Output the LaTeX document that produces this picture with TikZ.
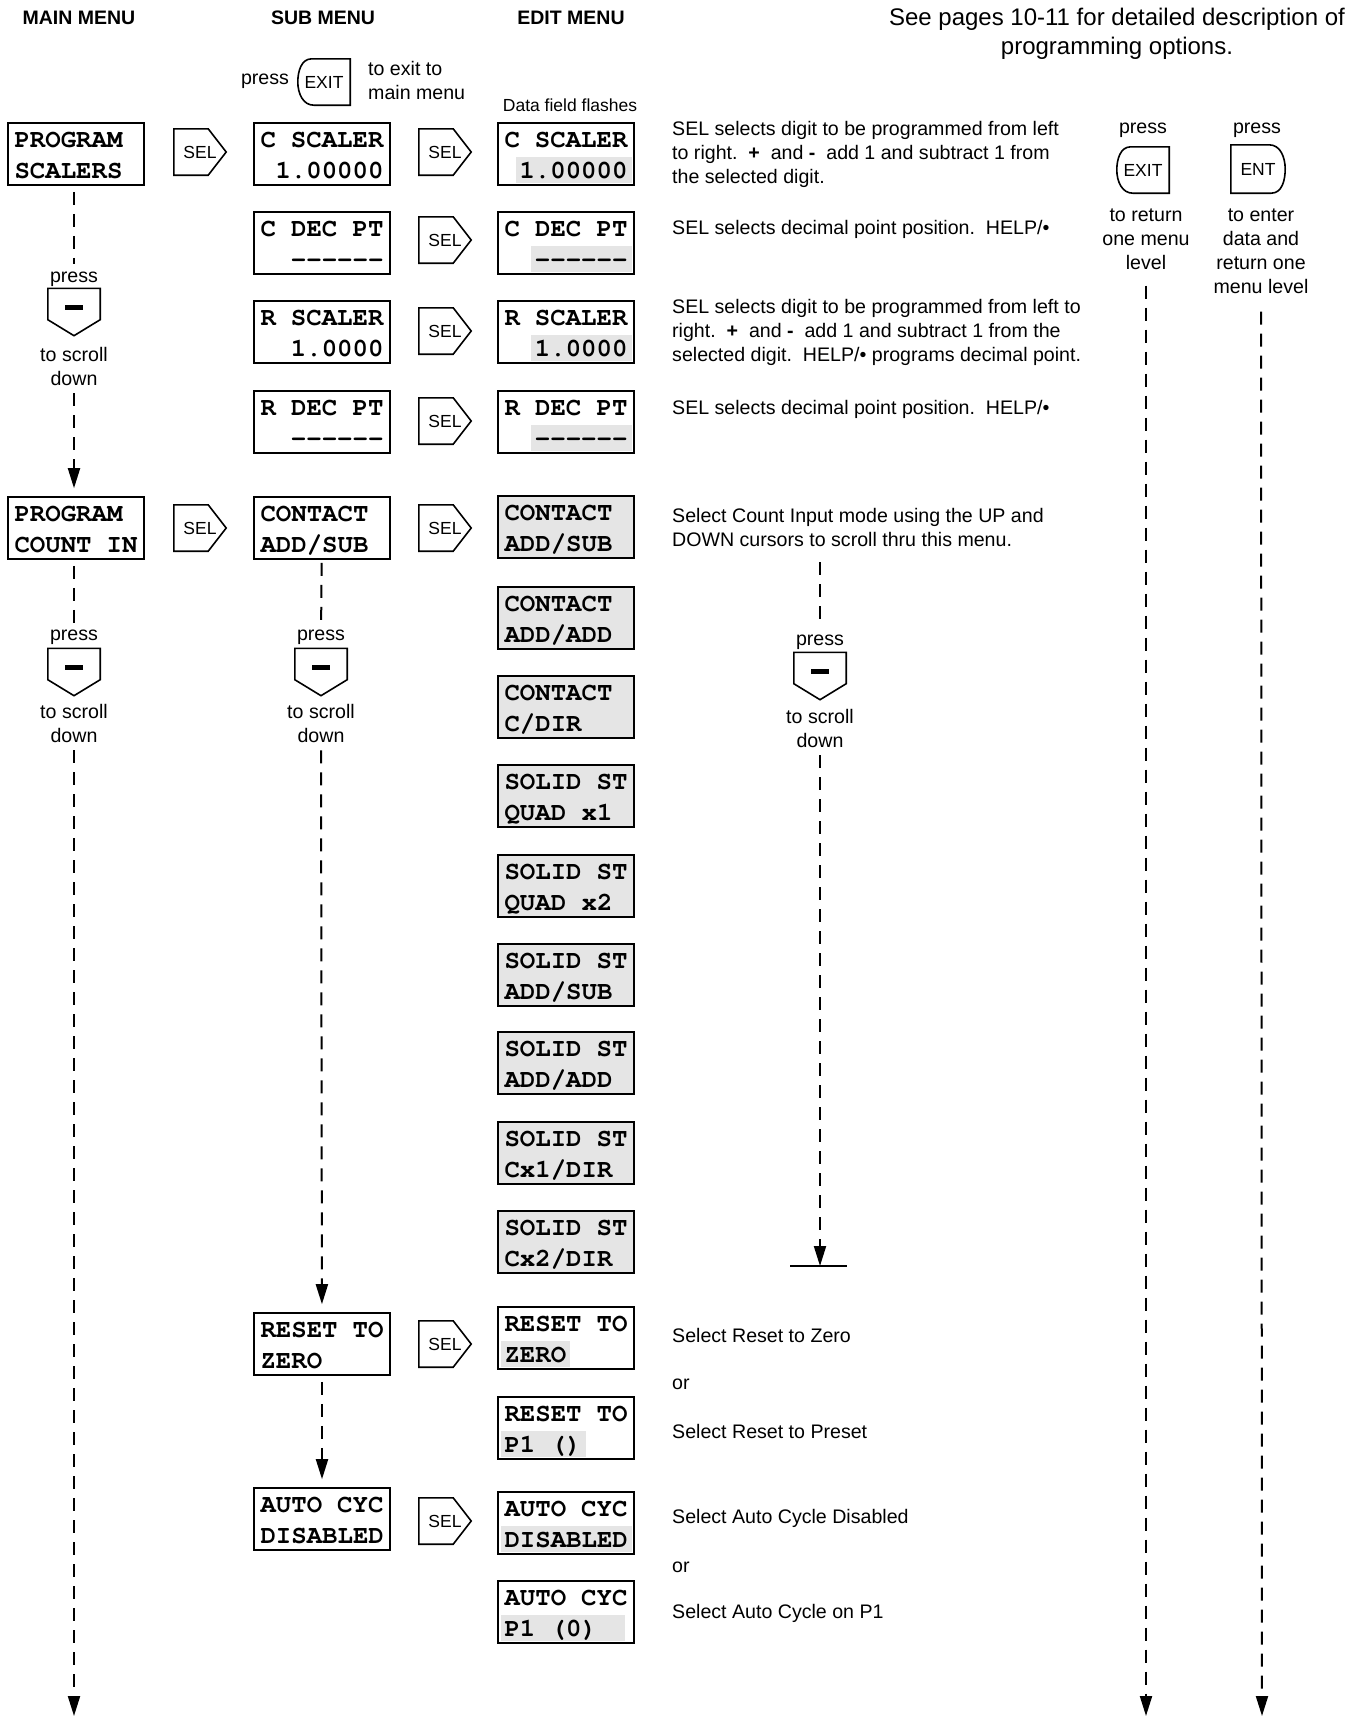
\documentclass[tikz,border=0pt]{standalone}
\usepackage{fontspec}
\setmainfont{Liberation Sans}
\newfontfamily\lcdfont{texgyrecursor-bold}[Extension=.otf]
\usetikzlibrary{arrows.meta}

\definecolor{lcdgray}{gray}{0.9}

% two display rows of eight characters
\newcommand\lcdrows[2]{\vbox{\baselineskip=31pt\hbox to 123pt{#1}\hbox to 123pt{#2}}}
% flashing data field
\newcommand\flash[1]{\kern-4pt{\setlength\fboxsep{0pt}\colorbox{lcdgray}{\rule[-4pt]{0pt}{26pt}\kern4pt#1\kern4pt}}\kern-4pt}
\newcommand\dsh{-\kern0pt-\kern0pt-\kern0pt-\kern0pt-\kern0pt-}

\newcommand\selkey[2]{%
  \node[keytxt, minimum width=52pt, minimum height=46pt] (#1) at (#2) {SEL};
  \draw[keyline] (#1.north west) -- ([xshift=-18pt]#1.north east) -- (#1.east)
    -- ([xshift=-18pt]#1.south east) -- (#1.south west) -- cycle;}
\newcommand\downkey[2]{%
  \node[minimum width=52pt, minimum height=47pt, inner sep=0pt] (#1) at (#2) {};
  \draw[keyline] (#1.north west) -- (#1.north east) -- ([yshift=16pt]#1.south east)
    -- (#1.south) -- ([yshift=16pt]#1.south west) -- cycle;
  \draw[line width=4.5pt] ([xshift=-9pt,yshift=-19pt]#1.north) -- ([xshift=9pt,yshift=-19pt]#1.north);}
\newcommand\exitkey[2]{%
  \node[keytxt, minimum width=52pt, minimum height=46pt] (#1) at (#2) {EXIT};
  \draw[keyline] (#1.north east) -- ([xshift=14pt]#1.north west) to[out=180,in=90] (#1.west)
    to[out=-90,in=180] ([xshift=16pt]#1.south west) -- (#1.south east) -- cycle;}
\newcommand\entkey[2]{%
  \node[keytxt, minimum width=54pt, minimum height=48pt] (#1) at (#2) {ENT};
  \draw[keyline] (#1.north west) -- ([xshift=-16pt]#1.north east) to[out=0,in=90] (#1.east)
    to[out=-90,in=0] ([xshift=-14pt]#1.south east) -- (#1.south west) -- cycle;}

\tikzset{
  lcd/.style={draw, line width=1.6pt, minimum width=136pt, minimum height=62pt,
    inner xsep=6pt, inner ysep=0pt, text height=55pt, text depth=6pt,
    font=\lcdfont\fontsize{25.7pt}{31pt}\selectfont},
  lcdon/.style={lcd, fill=lcdgray},
  txt/.style={font=\fontsize{19.6pt}{24pt}\selectfont, inner sep=2pt, align=center},
  desc/.style={txt, anchor=west, align=left},
  head/.style={font=\bfseries\fontsize{19.5pt}{24pt}\selectfont},
  keytxt/.style={font=\fontsize{17.5pt}{20pt}\selectfont, inner sep=0pt},
  keyline/.style={line width=1.6pt, line join=miter},
  flow/.style={line width=2pt, dash pattern=on 13pt off 9pt, shorten <=6pt},
  flowto/.style={flow, -{Triangle[length=20pt,width=12pt]}, shorten >=8pt},
}

\begin{document}
\begin{tikzpicture}[x=1pt,y=-1pt]
\useasboundingbox (0,0) rectangle (1360,1719);

\node[head] (hmain) at (79,18) {MAIN MENU};
\node[head] (hsub) at (323,18) {SUB MENU};
\node[head] (hedit) at (571,18) {EDIT MENU};
\node[txt, font=\fontsize{24pt}{28.5pt}\selectfont] (hnote) at (1117,34)
  {See pages 10-11 for detailed description of\\programming options.};

\node[txt] (pressX) at (265,81) {press};
\exitkey{exitA}{324,82}
\node[desc] (exitTxt) at (366,80) {to exit to\\main menu};
\node[txt, font=\fontsize{17.5pt}{20pt}\selectfont] (flashTxt) at (570,105) {Data field flashes};

% main menu
\node[lcd] (mainA) at (76,154) {\lcdrows{PROGRAM\hfil}{SCALERS\hfil}};
\node[lcd] (mainB) at (76,528) {\lcdrows{PROGRAM\hfil}{COUNT IN\hfil}};

% sub menu
\node[lcd] (subA) at (322,154) {\lcdrows{C SCALER\hfil}{\hfil 1.00000}};
\node[lcd] (subB) at (322,243) {\lcdrows{C DEC PT\hfil}{\hfil\dsh}};
\node[lcd] (subC) at (322,332) {\lcdrows{R SCALER\hfil}{\hfil 1.0000}};
\node[lcd] (subD) at (322,422) {\lcdrows{R DEC PT\hfil}{\hfil\dsh}};
\node[lcd] (subE) at (322,528) {\lcdrows{CONTACT\hfil}{ADD/SUB\hfil}};
\node[lcd] (subF) at (322,1344) {\lcdrows{RESET TO\hfil}{ZERO\hfil}};
\node[lcd] (subG) at (322,1519) {\lcdrows{AUTO CYC\hfil}{DISABLED\hfil}};

% edit menu
\node[lcd] (editA) at (566,154) {\lcdrows{C SCALER\hfil}{\hfil\flash{1.00000}}};
\node[lcd] (editB) at (566,243) {\lcdrows{C DEC PT\hfil}{\hfil\flash{\dsh}}};
\node[lcd] (editC) at (566,332) {\lcdrows{R SCALER\hfil}{\hfil\flash{1.0000}}};
\node[lcd] (editD) at (566,422) {\lcdrows{R DEC PT\hfil}{\hfil\flash{\dsh}}};
\foreach \n/\y/\rowa/\rowb in {E/527/CONTACT/{ADD/SUB}, F/618/CONTACT/{ADD/ADD},
    G/707/CONTACT/{C/DIR}, H/796/SOLID ST/{QUAD x1}, I/886/SOLID ST/{QUAD x2},
    J/975/SOLID ST/{ADD/SUB}, K/1063/SOLID ST/{ADD/ADD}, L/1153/SOLID ST/{Cx1/DIR},
    M/1242/SOLID ST/{Cx2/DIR}}
  \node[lcdon] (edit\n) at (566,\y) {\lcdrows{\rowa\hfil}{\rowb\hfil}};
\node[lcd] (editN) at (566,1338) {\lcdrows{RESET TO\hfil}{\flash{ZERO}\hfil}};
\node[lcd] (editO) at (566,1428) {\lcdrows{RESET TO\hfil}{\flash{P1 ()}\hfil}};
\node[lcd] (editP) at (566,1523) {\lcdrows{AUTO CYC\hfil}{\flash{DISABLED}\hfil}};
\node[lcd] (editQ) at (566,1612) {\lcdrows{AUTO CYC\hfil}{\flash{P1 (0)\kern24pt}\hfil}};

% SEL keys
\selkey{selMa}{200,152}
\selkey{selMb}{200,528}
\foreach \n/\y in {a/152, b/240, c/331, d/421, e/528, f/1344, g/1521}
  {\selkey{selS\n}{445,\y}}

% descriptions
\node[desc] (dA) at (670,154) {SEL selects digit to be programmed from left\\to right.\ \ \textbf{+}\ \ and \textbf{-}\ \ add 1 and subtract 1 from\\the selected digit.};
\node[desc] (dB) at (670,229) {SEL selects decimal point position.\ \ HELP/•};
\node[desc] (dC) at (670,332) {SEL selects digit to be programmed from left to\\right.\ \ \textbf{+}\ \ and \textbf{-}\ \ add 1 and subtract 1 from the\\selected digit.\ \ HELP/• programs decimal point.};
\node[desc] (dD) at (670,409) {SEL selects decimal point position.\ \ HELP/•};
\node[desc] (dE) at (670,527) {Select Count Input mode using the UP and\\DOWN cursors to scroll thru this menu.};
\node[desc] (dF) at (670,1335) {Select Reset to Zero};
\node[desc] (orA) at (670,1384) {or};
\node[desc] (dG) at (670,1431) {Select Reset to Preset};
\node[desc] (dH) at (670,1518) {Select Auto Cycle Disabled};
\node[desc] (orB) at (670,1567) {or};
\node[desc] (dI) at (670,1613) {Select Auto Cycle on P1};

% scroll keys
\node[txt] (pressA) at (74,279) {press};
\downkey{keyA}{74,312}
\node[txt] (scrollA) at (74,366) {to scroll\\down};
\node[txt] (pressB) at (74,637) {press};
\downkey{keyB}{74,672}
\node[txt] (scrollB) at (74,723) {to scroll\\down};
\node[txt] (pressC) at (321,637) {press};
\downkey{keyC}{321,672}
\node[txt] (scrollC) at (321,723) {to scroll\\down};
\node[txt] (pressE) at (820,642) {press};
\downkey{keyE}{820,676}
\node[txt] (scrollE) at (820,728) {to scroll\\down};

% return / enter keys
\node[txt] (pressR) at (1143,130) {press};
\exitkey{exitB}{1143,170}
\node[txt] (retLbl) at (1146,239) {to return\\one menu\\level};
\node[txt] (pressN) at (1257,130) {press};
\entkey{entA}{1258,169}
\node[txt] (entLbl) at (1261,251) {to enter\\data and\\return one\\menu level};

\coordinate (mainEnd) at (74,1716);
\coordinate (countTop) at (820,562);
\coordinate (countEnd) at (820,1266);
\coordinate (barL) at (790,1266);
\coordinate (barR) at (847,1266);
\coordinate (retEnd) at (1146,1716);
\coordinate (entEnd) at (1262,1716);

\draw[flow, shorten >=5pt] (mainA.south -| keyA) -- (pressA);
\draw[flowto] (scrollA) -- (mainB.north -| scrollA);
\draw[flow, shorten >=5pt] (mainB.south -| keyB) -- (pressB);
\draw[flowto, shorten >=0pt] (scrollB) -- (mainEnd);
\draw[flow, shorten <=3pt, shorten >=5pt] (subE) -- (pressC);
\draw[flowto] (scrollC) -- (subF);
\draw[flowto] (subF) -- (subG);
\draw[flow, shorten <=0pt, shorten >=5pt] (countTop) -- (pressE);
\draw[flowto, shorten >=0pt] (scrollE) -- (countEnd);
\draw[line width=1.6pt] (barL) -- (barR);
\draw[flowto, shorten <=14pt, shorten >=0pt] (retLbl) -- (retEnd);
\draw[flowto, shorten <=16pt, shorten >=0pt] (entLbl) -- (entEnd);
\end{tikzpicture}
\end{document}
